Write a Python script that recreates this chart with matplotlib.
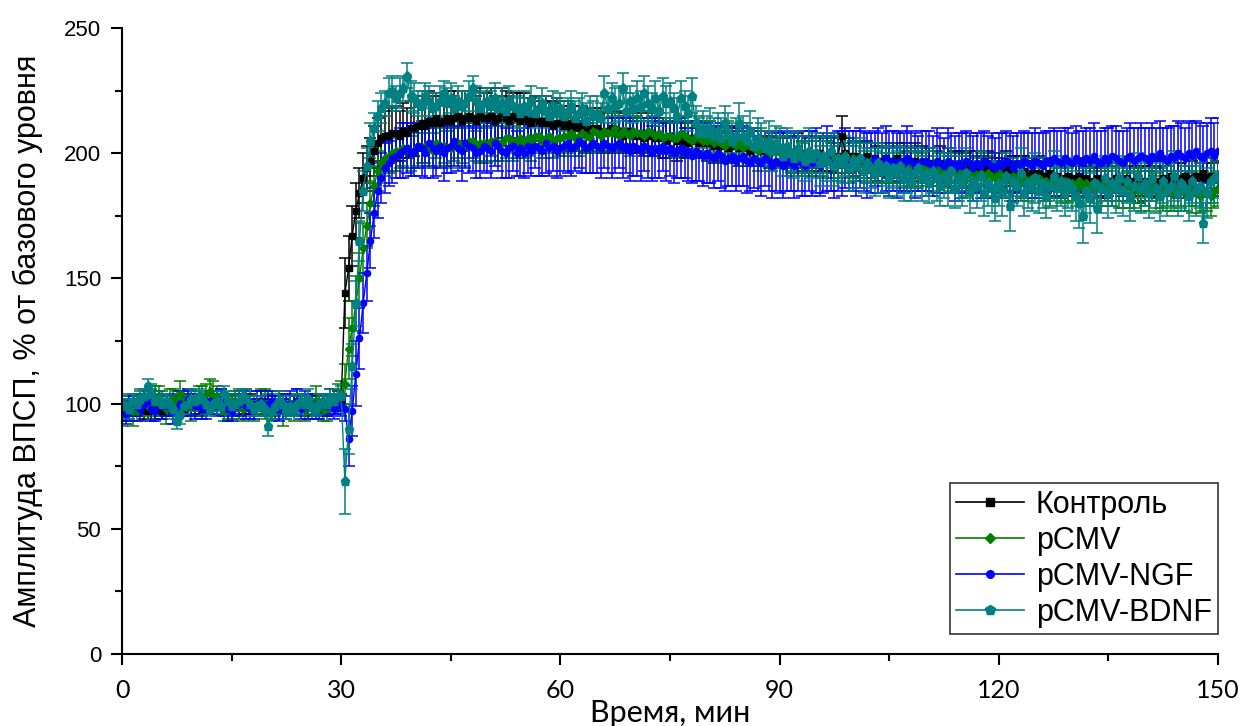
import numpy as np
import matplotlib
matplotlib.use('Agg')
import matplotlib.pyplot as plt
from matplotlib.lines import Line2D
from matplotlib.ticker import MultipleLocator

# time, min (one point every 0.5 min, rows below = 5 min each)
time_min = np.arange(0, 150.5, 0.5)

ctrl = [98, 97, 98, 99, 100, 99, 98, 97, 99, 98,
        99, 97, 98, 99, 98, 100, 99, 98, 100, 99,
        99, 100, 98, 99, 100, 99, 101, 100, 99, 100,
        100, 99, 99, 100, 101, 100, 99, 100, 101, 99,
        100, 99, 98, 100, 99, 100, 100, 99, 101, 100,
        99, 100, 100, 99, 98, 100, 99, 100, 100, 101,
        101, 144, 154, 167, 177, 184, 190, 194, 197, 201,
        204, 206, 207, 207, 208, 208, 207, 209, 208, 210,
        210, 211, 212, 211, 213, 212, 214, 212, 213, 214,
        213, 214, 215, 213, 214, 215, 214, 213, 215, 214,
        214, 215, 213, 214, 216, 214, 213, 215, 214, 213,
        214, 213, 212, 214, 213, 212, 213, 212, 211, 212,
        212, 211, 212, 210, 211, 210, 211, 209, 210, 209,
        210, 209, 208, 209, 210, 208, 209, 207, 208, 209,
        208, 207, 208, 206, 207, 208, 206, 207, 206, 205,
        207, 206, 205, 206, 205, 204, 206, 205, 204, 205,
        204, 205, 203, 204, 203, 204, 202, 203, 204, 202,
        203, 202, 201, 203, 202, 201, 202, 200, 201, 202,
        201, 200, 201, 199, 200, 201, 199, 200, 199, 200,
        199, 200, 198, 199, 200, 198, 199, 207, 200, 199,
        198, 199, 197, 198, 199, 197, 198, 196, 197, 198,
        196, 197, 198, 196, 197, 195, 196, 197, 195, 196,
        195, 196, 194, 195, 196, 194, 195, 193, 194, 195,
        194, 193, 195, 193, 194, 192, 193, 194, 192, 193,
        193, 192, 194, 192, 193, 191, 192, 193, 191, 192,
        191, 192, 190, 191, 192, 190, 191, 189, 190, 191,
        190, 189, 191, 189, 190, 188, 189, 190, 188, 189,
        189, 188, 190, 188, 189, 190, 188, 189, 187, 189,
        188, 189, 190, 188, 189, 190, 189, 191, 190, 189,
        190, 191, 189, 190, 191, 190, 192, 190, 191, 190,
        190]
ctrl_err = [3, 4, 3, 3, 4, 3, 4, 3, 3, 4,
            4, 3, 3, 4, 3, 3, 4, 3, 4, 3,
            3, 4, 3, 3, 4, 3, 3, 4, 3, 3,
            4, 3, 3, 4, 3, 4, 3, 3, 4, 3,
            3, 3, 4, 3, 3, 4, 3, 4, 3, 3,
            4, 3, 3, 4, 3, 3, 4, 3, 3, 4,
            3, 14, 13, 12, 11, 10, 10, 9, 9, 10,
            10, 9, 10, 11, 10, 11, 10, 11, 10, 11,
            11, 10, 11, 10, 12, 11, 10, 11, 10, 11,
            10, 11, 10, 12, 11, 10, 11, 10, 11, 10,
            10, 11, 10, 9, 10, 11, 10, 9, 10, 11,
            10, 9, 10, 9, 10, 9, 10, 9, 9, 10,
            9, 8, 9, 9, 8, 9, 8, 9, 8, 8,
            8, 9, 8, 8, 7, 8, 8, 7, 8, 8,
            8, 7, 8, 7, 7, 8, 7, 7, 8, 7,
            7, 7, 8, 7, 7, 6, 7, 7, 6, 7,
            7, 6, 7, 7, 6, 7, 6, 7, 6, 7,
            6, 7, 6, 6, 7, 6, 7, 6, 6, 7,
            7, 6, 6, 7, 6, 7, 6, 7, 7, 6,
            6, 7, 7, 6, 7, 6, 7, 8, 6, 7,
            7, 6, 7, 6, 6, 7, 6, 7, 6, 6,
            6, 7, 6, 7, 7, 6, 6, 7, 6, 7,
            7, 6, 7, 6, 7, 6, 7, 6, 7, 6,
            6, 7, 6, 6, 7, 7, 6, 7, 6, 7,
            7, 6, 7, 7, 6, 6, 7, 6, 7, 6,
            6, 7, 6, 7, 6, 7, 6, 7, 7, 6,
            7, 6, 7, 6, 7, 6, 6, 7, 6, 7,
            6, 7, 6, 7, 6, 7, 7, 6, 7, 6,
            7, 6, 7, 6, 6, 7, 6, 7, 6, 7,
            6, 7, 6, 7, 7, 6, 7, 6, 7, 6,
            7]

pcmv = [96, 98, 99, 97, 97, 100, 101, 99, 100, 102,
        103, 100, 98, 101, 102, 100, 104, 101, 101, 99,
        99, 102, 102, 104, 105, 103, 103, 101, 97, 99,
        99, 101, 100, 98, 102, 100, 98, 99, 101, 100,
        100, 98, 99, 101, 97, 99, 100, 98, 101, 99,
        98, 100, 99, 101, 100, 98, 98, 100, 101, 103,
        104, 108, 122, 130, 140, 150, 162, 171, 180, 187,
        193, 196, 198, 199, 200, 201, 201, 202, 202, 200,
        201, 203, 202, 203, 202, 201, 204, 203, 203, 202,
        202, 204, 204, 203, 203, 205, 205, 203, 204, 204,
        203, 205, 205, 204, 204, 206, 206, 204, 205, 206,
        204, 206, 205, 207, 207, 205, 206, 207, 205, 206,
        206, 207, 207, 208, 206, 207, 208, 207, 206, 209,
        208, 207, 209, 208, 208, 210, 207, 209, 208, 207,
        209, 208, 208, 207, 209, 208, 207, 208, 206, 207,
        207, 206, 206, 208, 207, 206, 205, 207, 206, 205,
        205, 206, 204, 205, 204, 203, 205, 204, 203, 204,
        202, 204, 203, 202, 201, 203, 202, 200, 201, 202,
        200, 201, 199, 200, 201, 199, 198, 200, 199, 198,
        199, 197, 198, 199, 197, 198, 196, 198, 197, 196,
        198, 196, 197, 195, 196, 197, 195, 196, 194, 196,
        195, 196, 194, 195, 193, 195, 194, 193, 195, 194,
        193, 195, 193, 194, 192, 193, 194, 192, 193, 192,
        193, 191, 192, 193, 191, 192, 190, 192, 191, 190,
        192, 190, 191, 189, 191, 190, 189, 190, 188, 190,
        189, 190, 188, 189, 187, 189, 188, 187, 189, 187,
        188, 187, 189, 186, 188, 187, 186, 188, 186, 187,
        187, 186, 188, 186, 185, 187, 186, 185, 187, 185,
        186, 185, 187, 185, 186, 184, 186, 185, 184, 186,
        185, 184, 186, 184, 185, 183, 185, 184, 183, 185,
        186]
pcmv_err = [5, 4, 5, 6, 4, 5, 5, 4, 6, 5,
            4, 5, 6, 5, 4, 5, 5, 4, 5, 6,
            4, 5, 5, 4, 5, 6, 4, 5, 4, 5,
            5, 4, 6, 5, 4, 5, 5, 4, 5, 6,
            4, 5, 5, 4, 6, 5, 4, 5, 5, 4,
            5, 4, 5, 6, 4, 5, 5, 4, 5, 5,
            5, 8, 12, 11, 11, 10, 10, 9, 9, 8,
            8, 8, 7, 7, 7, 8, 7, 7, 8, 7,
            7, 8, 6, 7, 8, 7, 6, 8, 7, 7,
            8, 7, 6, 7, 8, 7, 7, 6, 8, 7,
            7, 6, 8, 7, 7, 8, 6, 7, 7, 8,
            6, 7, 8, 7, 6, 7, 8, 7, 7, 6,
            7, 8, 7, 6, 7, 8, 7, 7, 6, 8,
            7, 7, 8, 6, 7, 8, 7, 6, 7, 8,
            8, 7, 6, 7, 8, 7, 7, 8, 6, 7,
            7, 8, 7, 6, 8, 7, 7, 8, 7, 6,
            8, 7, 7, 6, 8, 7, 8, 7, 6, 7,
            7, 8, 6, 7, 8, 7, 7, 6, 8, 7,
            6, 7, 8, 7, 7, 8, 6, 7, 8, 7,
            7, 6, 8, 7, 7, 8, 7, 6, 7, 8,
            8, 7, 7, 6, 8, 7, 7, 8, 6, 7,
            7, 8, 6, 7, 7, 8, 7, 7, 8, 6,
            6, 7, 8, 7, 8, 7, 6, 7, 7, 8,
            7, 8, 7, 6, 7, 8, 8, 7, 6, 7,
            8, 7, 6, 8, 7, 7, 8, 6, 7, 8,
            7, 6, 7, 8, 8, 7, 6, 7, 8, 7,
            7, 8, 7, 7, 6, 8, 7, 8, 7, 6,
            8, 7, 7, 8, 7, 6, 8, 7, 7, 8,
            7, 8, 6, 7, 8, 7, 7, 8, 7, 7,
            8, 7, 7, 8, 6, 7, 8, 7, 8, 7,
            7]

ngf = [97, 96, 98, 99, 99, 98, 100, 101, 98, 97,
       101, 99, 99, 100, 97, 98, 100, 99, 102, 100,
       99, 100, 98, 99, 101, 100, 100, 102, 99, 98,
       97, 99, 100, 101, 99, 98, 98, 100, 101, 99,
       100, 101, 99, 98, 98, 100, 100, 99, 101, 98,
       101, 99, 100, 98, 99, 100, 99, 101, 98, 100,
       99, 98, 86, 97, 112, 126, 140, 152, 165, 176,
       185, 190, 194, 196, 198, 199, 200, 201, 202, 200,
       201, 203, 202, 200, 204, 202, 201, 203, 200, 202,
       203, 205, 202, 201, 204, 203, 202, 200, 201, 203,
       202, 201, 204, 203, 201, 200, 202, 203, 200, 202,
       200, 203, 201, 203, 202, 201, 204, 202, 203, 201,
       202, 203, 204, 202, 203, 205, 204, 202, 203, 204,
       203, 202, 204, 203, 202, 203, 204, 202, 203, 201,
       203, 202, 201, 203, 202, 200, 202, 201, 203, 201,
       202, 200, 201, 202, 200, 201, 199, 201, 200, 199,
       200, 199, 198, 200, 199, 197, 198, 199, 197, 198,
       199, 197, 196, 198, 197, 196, 198, 197, 195, 197,
       196, 195, 197, 196, 195, 197, 196, 195, 197, 196,
       197, 195, 196, 198, 196, 195, 197, 196, 198, 197,
       197, 196, 198, 197, 195, 196, 198, 197, 196, 198,
       196, 197, 195, 197, 196, 198, 197, 195, 196, 197,
       197, 196, 195, 197, 196, 195, 197, 196, 194, 196,
       195, 197, 196, 194, 196, 195, 197, 196, 195, 194,
       196, 195, 197, 196, 194, 196, 195, 197, 196, 195,
       197, 196, 195, 197, 196, 198, 197, 196, 198, 197,
       196, 198, 197, 196, 198, 197, 199, 197, 196, 198,
       197, 199, 198, 197, 196, 198, 199, 197, 198, 199,
       198, 197, 199, 198, 200, 198, 197, 199, 198, 200,
       199, 198, 200, 199, 201, 199, 198, 200, 201, 199,
       201]
ngf_err = [4, 4, 5, 4, 4, 5, 4, 4, 5, 4,
           4, 5, 4, 4, 5, 4, 5, 4, 4, 5,
           5, 4, 4, 5, 4, 4, 5, 4, 4, 5,
           4, 4, 5, 4, 5, 4, 4, 5, 4, 4,
           5, 4, 4, 5, 4, 4, 5, 4, 5, 4,
           4, 5, 4, 4, 5, 4, 4, 5, 4, 4,
           4, 5, 11, 10, 13, 12, 12, 11, 11, 10,
           11, 10, 10, 9, 10, 9, 10, 11, 10, 9,
           10, 9, 11, 10, 9, 12, 10, 9, 11, 10,
           11, 10, 9, 12, 10, 11, 9, 10, 11, 10,
           10, 11, 9, 10, 11, 10, 12, 10, 9, 11,
           10, 11, 10, 9, 11, 10, 12, 11, 10, 11,
           11, 10, 12, 11, 10, 11, 12, 10, 11, 12,
           11, 12, 10, 11, 12, 11, 10, 12, 11, 12,
           12, 11, 12, 10, 12, 11, 12, 11, 10, 12,
           11, 12, 11, 12, 10, 12, 11, 12, 11, 12,
           12, 11, 12, 11, 13, 12, 11, 12, 12, 11,
           12, 13, 11, 12, 12, 13, 11, 12, 13, 12,
           12, 13, 12, 11, 13, 12, 13, 12, 12, 13,
           13, 12, 12, 13, 11, 13, 12, 13, 12, 12,
           12, 13, 12, 12, 13, 12, 11, 13, 12, 13,
           13, 12, 13, 12, 12, 13, 12, 13, 11, 12,
           12, 13, 12, 13, 12, 11, 13, 12, 13, 12,
           13, 12, 12, 13, 12, 13, 12, 11, 13, 12,
           12, 13, 12, 12, 13, 12, 13, 12, 12, 13,
           13, 12, 13, 12, 13, 12, 12, 13, 12, 13,
           12, 13, 12, 13, 12, 13, 13, 12, 13, 12,
           13, 12, 13, 12, 13, 12, 13, 13, 12, 13,
           12, 13, 13, 12, 13, 12, 13, 12, 13, 13,
           13, 12, 13, 13, 12, 13, 13, 12, 13, 13,
           13]

bdnf = [100, 99, 98, 101, 100, 102, 103, 107, 104, 101,
        102, 100, 101, 100, 98, 93, 96, 99, 100, 102,
        101, 103, 102, 100, 98, 100, 101, 99, 104, 101,
        99, 100, 101, 103, 102, 100, 98, 99, 100, 98,
        91, 97, 99, 101, 100, 97, 99, 98, 100, 101,
        100, 102, 99, 98, 100, 101, 100, 102, 101, 103,
        103, 69, 90, 115, 140, 165, 185, 195, 205, 210,
        215, 218, 220, 224, 225, 222, 224, 226, 231, 223,
        222, 220, 219, 223, 221, 218, 219, 221, 224, 220,
        222, 218, 221, 219, 220, 223, 226, 221, 218, 220,
        221, 219, 222, 218, 220, 217, 221, 219, 218, 216,
        219, 217, 221, 216, 218, 220, 217, 215, 219, 216,
        218, 215, 217, 219, 214, 216, 218, 213, 217, 215,
        216, 214, 224, 218, 222, 219, 220, 226, 217, 221,
        218, 222, 219, 224, 220, 218, 222, 217, 223, 220,
        221, 218, 215, 222, 219, 216, 223, 212, 208, 210,
        208, 210, 207, 209, 206, 212, 208, 205, 207, 212,
        207, 205, 209, 203, 206, 204, 202, 205, 201, 204,
        202, 199, 203, 200, 198, 202, 199, 197, 201, 198,
        200, 196, 199, 197, 201, 195, 198, 196, 199, 194,
        197, 195, 198, 193, 196, 194, 192, 196, 193, 195,
        191, 194, 192, 195, 190, 193, 189, 192, 194, 190,
        192, 188, 193, 190, 187, 191, 189, 193, 186, 190,
        188, 192, 185, 189, 187, 191, 184, 188, 186, 182,
        188, 185, 191, 179, 189, 187, 192, 184, 188, 186,
        190, 185, 188, 183, 187, 191, 186, 189, 184, 188,
        186, 183, 180, 175, 185, 182, 188, 178, 186, 190,
        184, 188, 186, 190, 185, 189, 183, 187, 191, 186,
        188, 184, 190, 186, 183, 189, 185, 187, 191, 184,
        188, 186, 183, 189, 185, 187, 172, 184, 189, 190,
        191]
bdnf_err = [3, 3, 4, 3, 3, 4, 3, 3, 4, 3,
            3, 4, 3, 3, 4, 3, 4, 3, 3, 4,
            4, 3, 3, 4, 3, 3, 4, 3, 3, 4,
            3, 3, 4, 3, 4, 3, 3, 4, 3, 3,
            4, 3, 3, 4, 3, 3, 4, 3, 4, 3,
            3, 4, 3, 3, 4, 3, 3, 4, 3, 3,
            4, 13, 10, 9, 9, 8, 8, 7, 7, 6,
            6, 6, 5, 6, 6, 5, 6, 5, 5, 6,
            6, 5, 6, 5, 6, 6, 5, 6, 5, 6,
            6, 5, 6, 6, 5, 6, 5, 6, 6, 5,
            5, 6, 6, 5, 6, 5, 6, 6, 5, 6,
            6, 5, 6, 6, 5, 6, 6, 5, 6, 6,
            6, 6, 5, 6, 7, 6, 6, 7, 6, 6,
            7, 6, 7, 6, 6, 7, 7, 6, 7, 6,
            6, 7, 6, 7, 7, 6, 7, 6, 7, 7,
            7, 6, 7, 7, 6, 7, 7, 7, 6, 7,
            7, 8, 7, 7, 8, 7, 8, 7, 7, 8,
            8, 7, 8, 7, 8, 8, 7, 8, 8, 7,
            8, 8, 7, 8, 8, 7, 8, 8, 9, 8,
            8, 9, 8, 8, 7, 8, 9, 8, 8, 9,
            8, 9, 8, 9, 8, 8, 9, 8, 9, 8,
            9, 8, 9, 8, 9, 9, 8, 9, 8, 9,
            9, 8, 9, 9, 8, 9, 10, 9, 8, 9,
            9, 10, 9, 8, 9, 10, 9, 9, 10, 9,
            9, 10, 9, 10, 9, 8, 10, 9, 10, 9,
            10, 9, 10, 9, 9, 10, 9, 10, 9, 10,
            9, 10, 10, 11, 9, 10, 9, 10, 10, 9,
            10, 9, 10, 9, 10, 9, 10, 10, 9, 10,
            9, 10, 9, 10, 10, 9, 10, 9, 10, 9,
            10, 9, 10, 9, 10, 9, 8, 10, 9, 10,
            9]

series = [
    ('Контроль', ctrl, ctrl_err, '#000000', 's', 4.5),
    ('pCMV', pcmv, pcmv_err, '#008000', 'D', 4.0),
    ('pCMV-NGF', ngf, ngf_err, '#0000ff', 'o', 4.5),
    ('pCMV-BDNF', bdnf, bdnf_err, '#008080', 'p', 6.5),
]

plt.rcParams['font.family'] = ['Liberation Sans', 'DejaVu Sans']

fig = plt.figure(figsize=(12.44, 7.26), dpi=100)
ax = fig.add_axes([0.0981, 0.0992, 0.8810, 0.8622])

handles = []
for name, vals, errs, col, mk, ms in series:
    ax.errorbar(time_min, vals, yerr=errs, color=col, ecolor=col, elinewidth=1.1,
                capsize=4, capthick=1.1, lw=1.0, marker=mk, markersize=ms,
                markeredgecolor=col, markerfacecolor=col)
    handles.append(Line2D([], [], color=col, lw=1.2, marker=mk, markersize=ms + 1,
                          markerfacecolor=col, markeredgecolor=col, label=name))

ax.set_xlim(0, 150)
ax.set_ylim(0, 250)
ax.xaxis.set_major_locator(MultipleLocator(30))
ax.xaxis.set_minor_locator(MultipleLocator(15))
ax.yaxis.set_major_locator(MultipleLocator(50))
ax.yaxis.set_minor_locator(MultipleLocator(25))

for side in ['top', 'right']:
    ax.spines[side].set_visible(False)
for side in ['left', 'bottom']:
    ax.spines[side].set_linewidth(1.5)

ax.tick_params(which='major', direction='out', length=8, width=1.5)
ax.tick_params(which='minor', direction='out', length=5, width=1.5)
ax.tick_params(axis='y', labelsize=16, pad=7)
ax.tick_params(axis='x', labelsize=18, pad=10)
for lab in ax.get_xticklabels():
    lab.set_family(['Lato', 'DejaVu Sans'])

ax.set_xlabel('Время, мин', fontsize=22, family=['Lato', 'DejaVu Sans'], labelpad=-2)
ax.set_ylabel('Амплитуда ВПСП, % от базового уровня', fontsize=22, labelpad=15)

leg = ax.legend(handles=handles, loc='lower right', bbox_to_anchor=(1.0, 0.032),
                borderaxespad=0, fontsize=22, frameon=True, fancybox=False,
                edgecolor='#000000', handlelength=2.2, handletextpad=0.4,
                labelspacing=0.2, borderpad=0.2)
leg.get_frame().set_linewidth(1.2)

fig.savefig('out.png', dpi=100)
